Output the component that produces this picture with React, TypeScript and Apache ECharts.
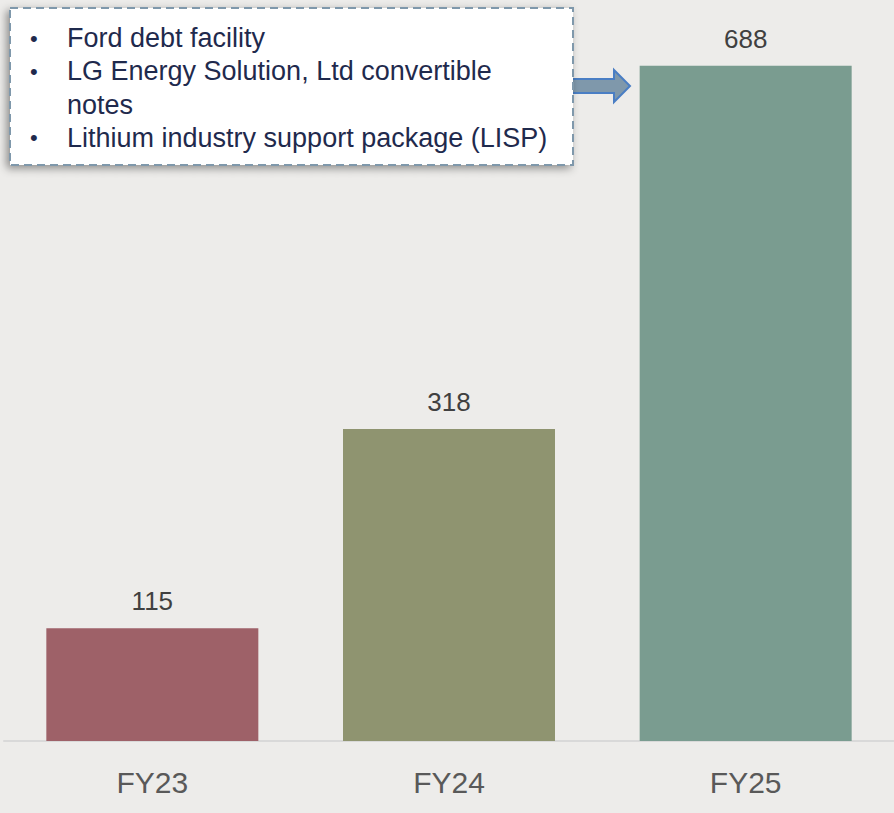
import React, { useEffect, useRef } from "react";
import * as echarts from "echarts";

const categories = ["FY23", "FY24", "FY25"];
const values = [115, 318, 688];
const barColors = ["#9E6168", "#8F9470", "#7A9C90"];
const noteLines = [
  { bullet: true, text: "Ford debt facility" },
  { bullet: true, text: "LG Energy Solution, Ltd convertible" },
  { bullet: false, text: "notes" },
  { bullet: true, text: "Lithium industry support package (LISP)" },
];

export default function App() {
  const ref = useRef<HTMLDivElement>(null);
  useEffect(() => {
    document.body.style.margin = "0";
    if (!ref.current) return;
    const chart = echarts.init(ref.current, null, { renderer: "svg" });
    const font = "'Liberation Sans', Arial, sans-serif";
    const textEls: any[] = [];
    noteLines.forEach((l, i) => {
      const y = 38 + i * 33.3;
      if (l.bullet) {
        textEls.push({
          type: "text",
          x: 30,
          y,
          z: 12,
          style: { text: "•", fill: "#1F2A4D", font: `22px ${font}`, verticalAlign: "middle" },
        });
      }
      textEls.push({
        type: "text",
        x: 67,
        y,
        z: 12,
        style: { text: l.text, fill: "#1F2A4D", font: `27px ${font}`, verticalAlign: "middle" },
      });
    });
    chart.setOption({
      animation: false,
      backgroundColor: "#EDECEA",
      grid: { left: 4, width: 893, top: 0, bottom: 72, containLabel: false },
      xAxis: {
        type: "category",
        data: categories,
        axisLine: { show: true, lineStyle: { color: "#D9D9D9", width: 2 } },
        axisTick: { show: false },
        axisLabel: { color: "#595959", fontSize: 30, fontFamily: font, margin: 26 },
      },
      yAxis: {
        type: "value",
        min: 0,
        max: 755,
        show: false,
        splitLine: { show: false },
      },
      series: [
        {
          type: "bar",
          barWidth: 212,
          data: values.map((v, i) => ({ value: v, itemStyle: { color: barColors[i] } })),
          label: {
            show: true,
            position: "top",
            distance: 14,
            color: "#404040",
            fontSize: 26,
            fontFamily: font,
          },
        },
      ],
      graphic: [
        {
          type: "polygon",
          z: 10,
          shape: {
            points: [
              [572, 79],
              [614, 79],
              [614, 70],
              [630, 86],
              [614, 102],
              [614, 93],
              [572, 93],
            ],
          },
          style: { fill: "#7F98AB", stroke: "#4A7EC4", lineWidth: 2 },
        },
        {
          type: "rect",
          z: 11,
          shape: { x: 10, y: 8, width: 563, height: 157 },
          style: {
            fill: "#FFFFFF",
            stroke: "#7F98AB",
            lineWidth: 2,
            lineDash: [8, 5],
            shadowBlur: 8,
            shadowOffsetX: -3,
            shadowOffsetY: 3,
            shadowColor: "rgba(0,0,0,0.4)",
          },
        },
        ...textEls,
      ],
    });
    return () => chart.dispose();
  }, []);
  return <div ref={ref} style={{ width: 894, height: 813 }} />;
}
